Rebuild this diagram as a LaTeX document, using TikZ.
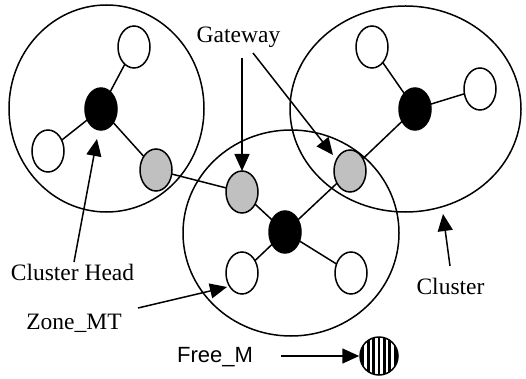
\documentclass[tikz,border=0pt]{standalone}
\usepackage{fontspec}
\setmainfont{Liberation Serif}
\newfontfamily\arialfont{Liberation Sans}
\usetikzlibrary{arrows.meta,shapes.geometric}
\begin{document}
\begin{tikzpicture}[x=1pt,y=-1pt,line width=1.5pt,
  sn/.style={draw,ellipse,minimum width=32pt,minimum height=42pt,inner sep=0pt},
  wn/.style={sn,fill=white},
  bn/.style={sn,fill=black},
  gn/.style={sn,fill={rgb,255:red,192;green,192;blue,192}},
  lbl/.style={font=\fontsize{23.5}{28}\selectfont,inner sep=0pt},
  arr/.style={-{Triangle[length=17pt,width=15pt]},line width=1.5pt}]
\useasboundingbox (0,0) rectangle (526,379);
% big clusters
\draw (106.5,108.5) ellipse [x radius=97.5, y radius=103.5];
\draw (405.5,109) ellipse [x radius=115.5, y radius=103];
\draw (291,233) ellipse [x radius=108, y radius=103];
% small nodes positions
\coordinate (pLw) at (48,151);
\coordinate (pLt) at (134,47);
\coordinate (pLb) at (101,109);
\coordinate (pLg) at (156,170);
\coordinate (pCg) at (242,192);
\coordinate (pCb) at (285,232);
\coordinate (pCl) at (242,273);
\coordinate (pCr) at (351,273);
\coordinate (pRg) at (350,171);
\coordinate (pRb) at (415,109);
\coordinate (pRt) at (372,47);
\coordinate (pRr) at (480,89);
% edges
\draw (pLb) -- (pLt) (pLb) -- (pLw) (pLb) -- (pLg) (pLg) -- (pCg)
      (pCb) -- (pCg) (pCb) -- (pCl) (pCb) -- (pCr) (pCb) -- (pRg)
      (pRb) -- (pRg) (pRb) -- (pRt) (pRb) -- (pRr);
% nodes
\node[wn] (Lw) at (pLw) {};
\node[wn] (Lt) at (pLt) {};
\node[bn] (Lb) at (pLb) {};
\node[gn] (Lg) at (pLg) {};
\node[gn] (Cg) at (pCg) {};
\node[bn] (Cb) at (pCb) {};
\node[wn] (Cl) at (pCl) {};
\node[wn] (Cr) at (pCr) {};
\node[gn] (Rg) at (pRg) {};
\node[bn] (Rb) at (pRb) {};
\node[wn] (Rt) at (pRt) {};
\node[wn] (Rr) at (pRr) {};
% labels
\node[lbl] (gw) at (238.5,37) {Gateway};
\node[lbl] (ch) at (72.5,272) {Cluster Head};
\node[lbl] (zm) at (74,323) {Zone\_MT};
\node[lbl] (cl) at (450.5,286) {Cluster};
\node[lbl,font=\arialfont\fontsize{22}{26}\selectfont] (fm) at (215,357) {Free\_M};
% label arrows
\coordinate (gw1) at (242,58);
\coordinate (gw2) at (253,53);
\coordinate (gw1t) at (242,171);
\coordinate (gw2t) at (333,155);
\draw[arr] (gw1) -- (gw1t);
\draw[arr] (gw2) -- (gw2t);
\coordinate (chs) at (74,262);
\coordinate (cht) at (97,139);
\draw[arr] (chs) -- (cht);
\coordinate (zms) at (138,308);
\coordinate (zmt) at (227,287);
\draw[arr] (zms) -- (zmt);
\coordinate (cls) at (450,266);
\coordinate (clt) at (443,214);
\draw[arr] (cls) -- (clt);
% Free_M node
\coordinate (pF) at (379,356);
\begin{scope}
\clip (pF) circle [radius=19];
\foreach \d in {-16.2,-10.8,...,16.3}
  \fill ([xshift=\d pt-1.4pt,yshift=-20pt]pF) rectangle ([xshift=\d pt+1.4pt,yshift=20pt]pF);
\end{scope}
\node[draw,circle,minimum size=38pt,inner sep=0pt] (F) at (pF) {};
\coordinate (fms) at (281,356);
\draw[arr] (fms) -- (F.west);
\end{tikzpicture}
\end{document}
